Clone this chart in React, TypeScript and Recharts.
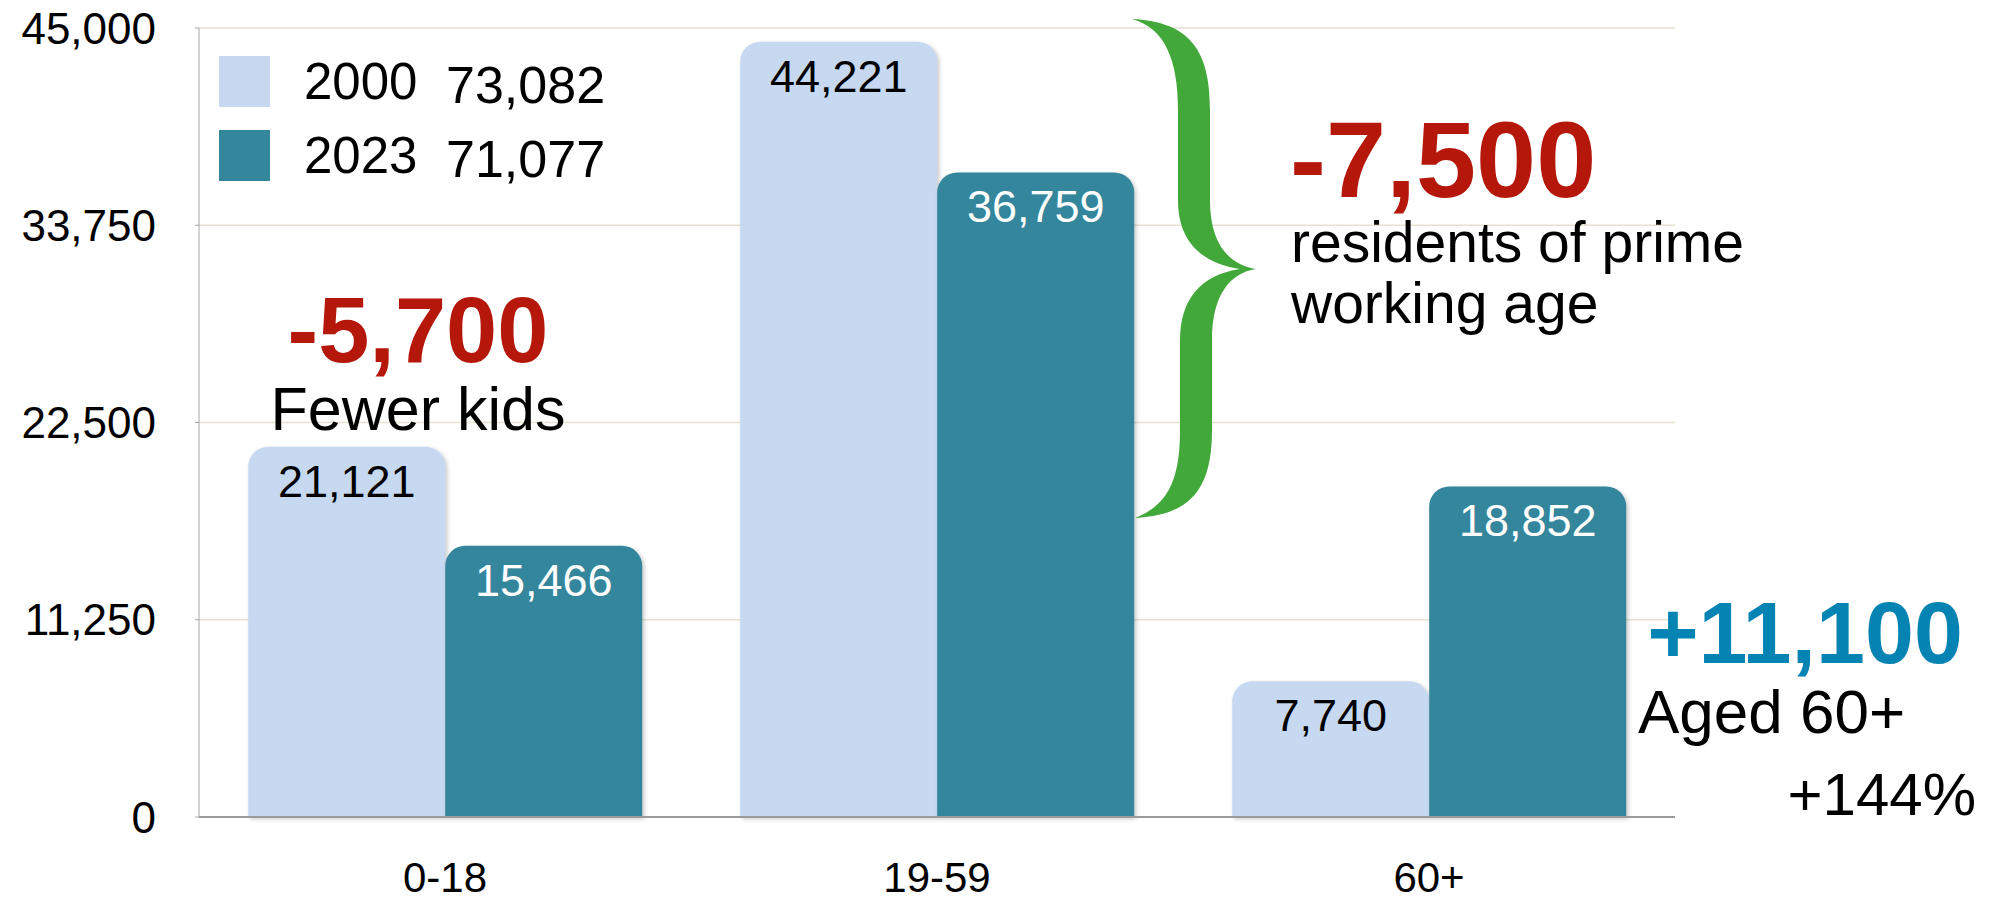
import React from "react";
import { Bar, BarChart, CartesianGrid, LabelList, Legend, Rectangle, XAxis, YAxis } from "recharts";

const ageGroups = ["0-18", "19-59", "60+"];
const pop2000 = [21121, 44221, 7740];
const pop2023 = [15466, 36759, 18852];
const yTicks = [0, 11250, 22500, 33750, 45000];

const LIGHT = "#C6D9F0";
const DARK = "#33869C";
const RED = "#B5170B";
const BLUE = "#0583B2";
const GREEN = "#43A83A";
const FONT = '"Liberation Sans", Arial, sans-serif';

const W = 1990;
const H = 902;

const data = ageGroups.map((group, i) => ({ group, y2000: pop2000[i], y2023: pop2023[i] }));
const sum = (arr: number[]) => arr.reduce((s, v) => s + v, 0);
const totals: Record<string, number> = { y2000: sum(pop2000), y2023: sum(pop2023) };

const fmt = (v: number) => v.toLocaleString("en-US");
const roundedChange = (i: number) => Math.round((pop2023[i] - pop2000[i]) / 100) * 100;
const signed = (v: number) => (v > 0 ? `+${fmt(v)}` : fmt(v));
const seniorPct = Math.round((pop2023[2] / pop2000[2] - 1) * 100);

function LegendBox({ payload }: any) {
  return (
    <div style={{ fontFamily: FONT, color: "#000" }}>
      {(payload ?? []).map((entry: any) => (
        <div key={entry.value} style={{ display: "flex", alignItems: "center", height: 74 }}>
          <span style={{ width: 51, height: 51, background: entry.color, display: "inline-block" }} />
          <span style={{ marginLeft: 34, fontSize: 51, lineHeight: 1, width: 142 }}>{entry.value}</span>
          <span style={{ fontSize: 52, lineHeight: 1, position: "relative", top: 4 }}>
            {fmt(totals[entry.dataKey])}
          </span>
        </div>
      ))}
    </div>
  );
}

// soft shadow like the original slide
const ShadowBar = (props: any) => (
  <Rectangle {...props} style={{ filter: "drop-shadow(2px 2px 2px rgba(0,0,0,0.22))" }} />
);

// curly brace next to the 19-59 group
const bracePath =
  "M1132,19 C1190,22 1210,50 1210,110 L1210,200 C1210,245 1230,265 1256,269 " +
  "C1230,273 1212,295 1212,340 L1212,430 C1212,490 1190,515 1135,518 " +
  "C1168,505 1180,480 1180,430 L1180,340 C1180,300 1200,275 1240,269 " +
  "C1200,263 1178,240 1178,200 L1178,110 C1178,60 1165,28 1132,19 Z";

export default function App() {
  return (
    <div style={{ position: "absolute", left: 0, top: 0, width: W, height: H, background: "#fff" }}>
      <BarChart
        width={W}
        height={H}
        data={data}
        margin={{ top: 28, right: 315, left: 0, bottom: 0 }}
        barCategoryGap="10%"
        barGap={0}
      >
        <CartesianGrid vertical={false} stroke="#E6E1D2" strokeWidth={1.5} />
        <XAxis
          dataKey="group"
          height={85}
          tickLine={false}
          tickSize={4}
          tickMargin={41}
          axisLine={{ stroke: "#9A9A9A", strokeWidth: 2 }}
          tick={{ fontSize: 42, fill: "#000", fontFamily: FONT }}
        />
        <YAxis
          domain={[0, 45000]}
          ticks={yTicks}
          interval={0}
          width={199}
          tickSize={4}
          tickMargin={39}
          axisLine={{ stroke: "#A6A6A6" }}
          tickLine={{ stroke: "#A6A6A6" }}
          tick={{ fontSize: 44, fill: "#000", fontFamily: FONT }}
          tickFormatter={fmt}
        />
        <Legend
          layout="horizontal"
          verticalAlign="middle"
          align="center"
          content={<LegendBox />}
          wrapperStyle={{ top: 44, left: 219, width: "auto" }}
        />
        <Bar
          dataKey="y2000"
          name="2000"
          fill={LIGHT}
          radius={[20, 20, 0, 0]}
          shape={ShadowBar}
          isAnimationActive={false}
        >
          <LabelList
            dataKey="y2000"
            position="insideTop"
            offset={18}
            formatter={(v: any) => fmt(Number(v))}
            fill="#000"
            fontSize={45}
            fontFamily={FONT}
          />
        </Bar>
        <Bar
          dataKey="y2023"
          name="2023"
          fill={DARK}
          radius={[20, 20, 0, 0]}
          shape={ShadowBar}
          isAnimationActive={false}
        >
          <LabelList
            dataKey="y2023"
            position="insideTop"
            offset={18}
            formatter={(v: any) => fmt(Number(v))}
            fill="#fff"
            fontSize={45}
            fontFamily={FONT}
          />
        </Bar>
      </BarChart>

      <svg
        width={W}
        height={H}
        style={{ position: "absolute", left: 0, top: 0, pointerEvents: "none" }}
        fontFamily={FONT}
      >
        <path d={bracePath} fill={GREEN} />

        <text x={418} y={362} textAnchor="middle" fontSize={92} fontWeight="bold" fill={RED}>
          {signed(roundedChange(0))}
        </text>
        <text x={418} y={430} textAnchor="middle" fontSize={61} fill="#000">
          Fewer kids
        </text>

        <text x={1290} y={197} fontSize={108} fontWeight="bold" fill={RED}>
          {signed(roundedChange(1))}
        </text>
        <text x={1291} y={262} fontSize={57} fill="#000">
          residents of prime
        </text>
        <text x={1291} y={323} fontSize={57} fill="#000">
          working age
        </text>

        <text x={1805} y={663} textAnchor="middle" fontSize={88} fontWeight="bold" fill={BLUE}>
          {signed(roundedChange(2))}
        </text>
        <text x={1638} y={733} fontSize={62} fill="#000">
          Aged 60+
        </text>
        <text x={1976} y={815} textAnchor="end" fontSize={60} fill="#000">
          +{seniorPct}%
        </text>
      </svg>
    </div>
  );
}
